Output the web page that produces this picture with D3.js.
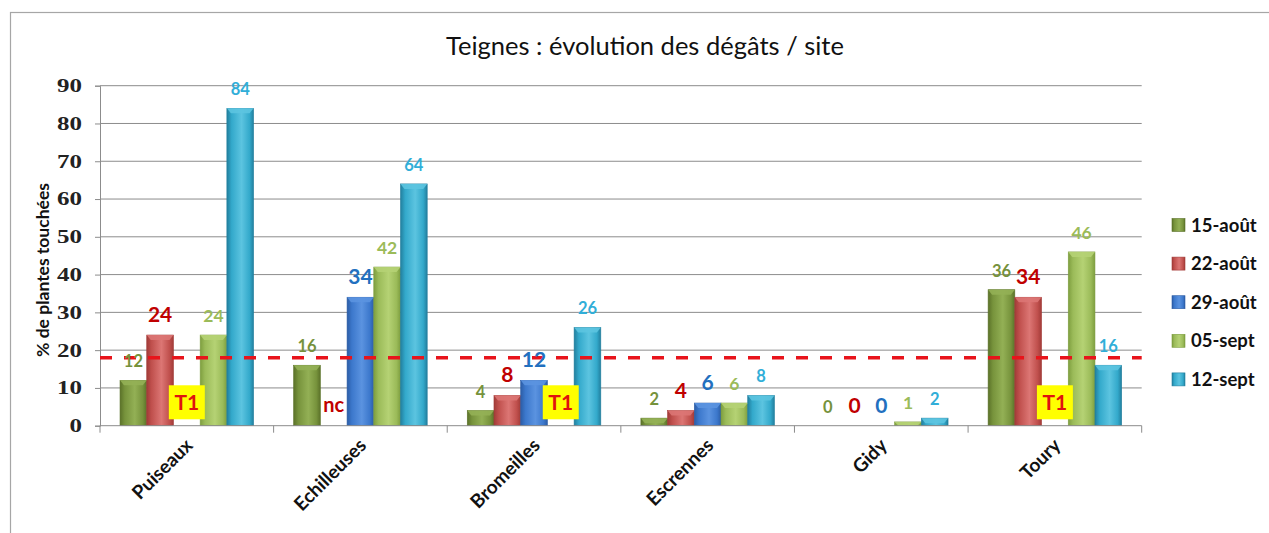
<!DOCTYPE html>
<html>
<head>
<meta charset="utf-8">
<script src="https://cdn.jsdelivr.net/npm/d3@7"></script>
<style>
  body { margin: 0; background: #fff; }
  svg { display: block; font-family: Lato, "Open Sans", sans-serif; }
</style>
</head>
<body>
<svg id="Viz"></svg>
<script>
// sites and series
let sites = ["Puiseaux", "Echilleuses", "Bromeilles", "Escrennes", "Gidy", "Toury"];
let dates = ["15-août", "22-août", "29-août", "05-sept", "12-sept"];

// % de plantes touchées, null = no bar
let aout15 = [12, 16, 4, 2, 0, 36];
let aout22 = [24, null, 8, 4, 0, 34];
let aout29 = [null, 34, 12, 6, 0, null];
let sept05 = [24, 42, null, 6, 1, 46];
let sept12 = [84, 64, 26, 8, 2, 16];

let yTicks = [0, 10, 20, 30, 40, 50, 60, 70, 80, 90];
let seuil = 18;

// notes drawn in place of a missing bar
let notesT1 = [["Puiseaux", "29-août"], ["Bromeilles", "05-sept"], ["Toury", "29-août"]];
let notesNc = [["Echilleuses", "22-août"]];

let series = [aout15, aout22, aout29, sept05, sept12];

let barColor = ["#77933C", "#C0504D", "#3C78CC", "#9BBB59", "#33A9CB"];
let barDark = ["#5B7229", "#A23B38", "#2C5DA6", "#7E9E3F", "#227F9E"];
let barLight = ["#93B055", "#DC7674", "#5B93E0", "#B5D274", "#5CC4E0"];
let labelColor = ["#76923C", "#C00000", "#2270BF", "#9BBB59", "#31AED8"];
let labelSize = [16.5, 21, 21, 17.5, 16.5];

let W = 1269, H = 533;
let svg = d3.select("#Viz").attr("width", W).attr("height", H);

// chart frame
svg.append("rect")
  .attr("x", 10.5).attr("y", 12.5)
  .attr("width", 1300).attr("height", 600)
  .attr("fill", "#fff").attr("stroke", "#A6A6A6").attr("stroke-width", 1.2);

let plotLeft = 100, plotRight = 1141.7, plotTop = 85.7, plotBottom = 425.7;

let xScale = d3.scaleBand().domain(sites).range([plotLeft, plotRight]);
let x1 = d3.scaleBand().domain(dates).range([0, xScale.bandwidth()]).paddingOuter(0.75);
let yScale = d3.scaleLinear().domain([0, 90]).range([plotBottom, plotTop]);

// gradients for the bevelled bars
let defs = svg.append("defs");
dates.forEach(function (d, i) {
  let g = defs.append("linearGradient").attr("id", "grad" + i)
    .attr("x1", "0%").attr("x2", "100%").attr("y1", "0%").attr("y2", "0%");
  g.append("stop").attr("offset", "0%").attr("stop-color", barDark[i]);
  g.append("stop").attr("offset", "18%").attr("stop-color", barColor[i]);
  g.append("stop").attr("offset", "55%").attr("stop-color", barLight[i]);
  g.append("stop").attr("offset", "85%").attr("stop-color", barColor[i]);
  g.append("stop").attr("offset", "100%").attr("stop-color", barDark[i]);
});

// title
svg.append("text")
  .attr("x", 645).attr("y", 55)
  .attr("text-anchor", "middle")
  .attr("font-size", 25.5)
  .attr("fill", "#111")
  .text("Teignes : évolution des dégâts / site");

// grid
svg.append("g")
  .selectAll("line")
  .data(yTicks.slice(1))
  .enter()
  .append("line")
  .attr("x1", plotLeft).attr("x2", plotRight)
  .attr("y1", function (d) { return yScale(d); })
  .attr("y2", function (d) { return yScale(d); })
  .attr("stroke", "#8C8C8C").attr("stroke-width", 1);

// y axis (serif digits, drawn a bit wide like the original)
let stretch = 1.35;
let yAxis = svg.append("g")
  .attr("transform", "translate(" + plotLeft + ",0)")
  .call(d3.axisLeft(yScale).tickValues(yTicks).tickSize(5));
yAxis.attr("font-family", "'Liberation Serif', 'DejaVu Serif', serif");
yAxis.selectAll("text")
  .attr("x", -18 / stretch)
  .attr("transform", "scale(" + stretch + ",1)")
  .attr("font-weight", "bold")
  .attr("font-size", 18.5)
  .attr("fill", "#222");
yAxis.selectAll("line, path").attr("stroke", "#8C8C8C");

svg.append("text")
  .attr("transform", "translate(49,270) rotate(-90)")
  .attr("text-anchor", "middle")
  .attr("font-size", 17.5)
  .attr("font-weight", "bold")
  .attr("fill", "#111")
  .text("% de plantes touchées");

// bars
let bars = [];
series.forEach(function (vals, i) {
  vals.forEach(function (v, j) {
    bars.push({ site: sites[j], date: dates[i], s: i, value: v });
  });
});
let shown = bars.filter(function (d) { return d.value !== null; });

let barG = svg.append("g");
barG.selectAll("rect.bar")
  .data(shown.filter(function (d) { return d.value > 0; }))
  .enter()
  .append("rect")
  .attr("class", "bar")
  .attr("x", function (d) { return xScale(d.site) + x1(d.date); })
  .attr("y", function (d) { return yScale(d.value); })
  .attr("width", x1.bandwidth())
  .attr("height", function (d) { return plotBottom - yScale(d.value); })
  .attr("fill", function (d) { return "url(#grad" + d.s + ")"; })
  .attr("stroke", function (d) { return barDark[d.s]; })
  .attr("stroke-width", 0.6);

// lighter bevel on the top of each bar
barG.selectAll("path.cap")
  .data(shown.filter(function (d) { return d.value > 0; }))
  .enter()
  .append("path")
  .attr("class", "cap")
  .attr("d", function (d) {
    let x = xScale(d.site) + x1(d.date), w = x1.bandwidth();
    let y = yScale(d.value);
    let h = Math.min(5, plotBottom - y);
    return "M" + x + "," + y + "L" + (x + w) + "," + y +
      "L" + (x + w - 4) + "," + (y + h) + "L" + (x + 4) + "," + (y + h) + "Z";
  })
  .attr("fill", function (d) { return barLight[d.s]; })
  .attr("opacity", 0.9);

// x axis
let xAxis = svg.append("g")
  .attr("transform", "translate(0," + plotBottom + ")");
xAxis.append("line")
  .attr("x1", plotLeft).attr("x2", plotRight)
  .attr("stroke", "#8C8C8C");
xAxis.selectAll("line.tick")
  .data(sites.concat(["end"]))
  .enter()
  .append("line")
  .attr("class", "tick")
  .attr("x1", function (d, i) { return plotLeft + i * xScale.step(); })
  .attr("x2", function (d, i) { return plotLeft + i * xScale.step(); })
  .attr("y1", 0).attr("y2", 7)
  .attr("stroke", "#8C8C8C");
xAxis.selectAll("text")
  .data(sites)
  .enter()
  .append("text")
  .attr("transform", function (d) {
    return "translate(" + (xScale(d) + xScale.bandwidth() / 2 + 7) + ",21) rotate(-45)";
  })
  .attr("text-anchor", "end")
  .attr("font-size", 19)
  .attr("font-weight", "bold")
  .attr("fill", "#111")
  .text(function (d) { return d; });

// seuil line
svg.append("line")
  .attr("x1", plotLeft).attr("x2", plotRight)
  .attr("y1", yScale(seuil)).attr("y2", yScale(seuil))
  .attr("stroke", "#E8141B")
  .attr("stroke-width", 3.5)
  .attr("stroke-dasharray", "12,12");

// value labels
svg.append("g")
  .selectAll("text")
  .data(shown)
  .enter()
  .append("text")
  .attr("x", function (d) { return xScale(d.site) + x1(d.date) + x1.bandwidth() / 2; })
  .attr("y", function (d) { return yScale(d.value) - 13; })
  .attr("text-anchor", "middle")
  .attr("font-size", function (d) { return labelSize[d.s]; })
  .attr("font-weight", "bold")
  .attr("fill", function (d) { return labelColor[d.s]; })
  .text(function (d) { return d.value; });

// T1 notes
let t1 = svg.append("g").selectAll("g")
  .data(notesT1)
  .enter()
  .append("g")
  .attr("transform", function (d) {
    return "translate(" + (xScale(d[0]) + x1(d[1]) + x1.bandwidth() / 2) + "," + yScale(6.2) + ")";
  });
t1.append("rect")
  .attr("x", -18).attr("y", -17).attr("width", 36).attr("height", 34)
  .attr("fill", "#FFFF00");
t1.append("text")
  .attr("y", 8)
  .attr("text-anchor", "middle")
  .attr("font-size", 21)
  .attr("font-weight", "bold")
  .attr("fill", "#E0120F")
  .text("T1");

svg.append("g").selectAll("text")
  .data(notesNc)
  .enter()
  .append("text")
  .attr("x", function (d) { return xScale(d[0]) + x1(d[1]) + x1.bandwidth() / 2; })
  .attr("y", yScale(3.7))
  .attr("text-anchor", "middle")
  .attr("font-size", 20)
  .attr("font-weight", "bold")
  .attr("fill", "#C00000")
  .text("nc");

// legend
let legend = svg.append("g").selectAll("g")
  .data(dates)
  .enter()
  .append("g")
  .attr("transform", function (d, i) { return "translate(1172," + (225 + i * 38.6) + ")"; });
legend.append("rect")
  .attr("x", 0).attr("y", -6.5).attr("width", 13).attr("height", 13)
  .attr("fill", function (d, i) { return "url(#grad" + i + ")"; })
  .attr("stroke", function (d, i) { return barDark[i]; })
  .attr("stroke-width", 0.6);
legend.append("text")
  .attr("x", 19).attr("y", 6.5)
  .attr("font-size", 18.5)
  .attr("font-weight", "bold")
  .attr("fill", "#111")
  .text(function (d) { return d; });
</script>
</body>
</html>
